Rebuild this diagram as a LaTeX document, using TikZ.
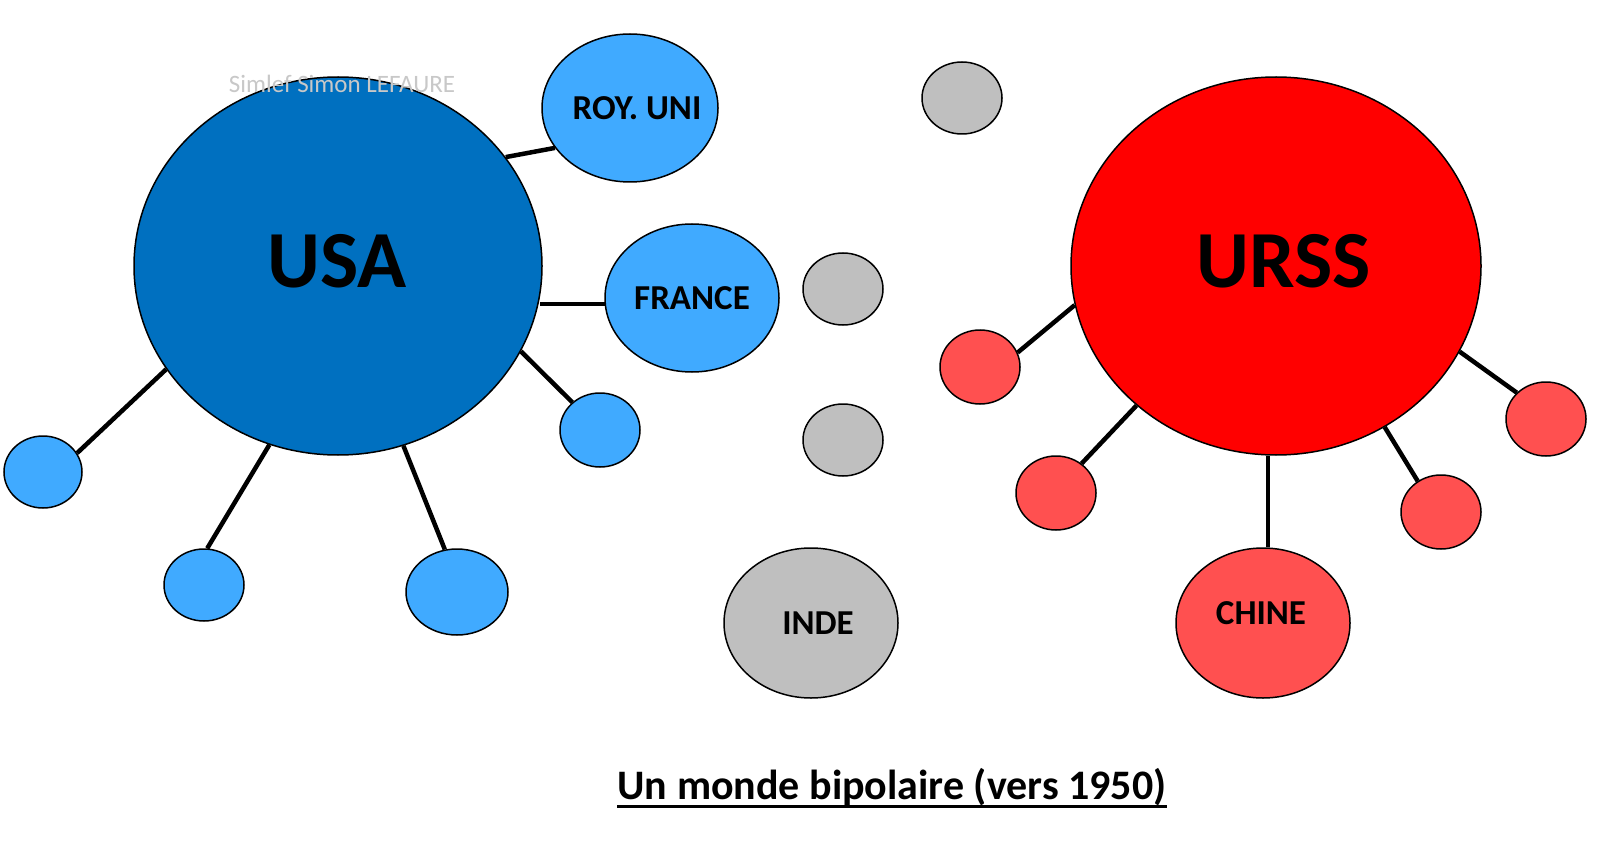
\documentclass[tikz,border=0pt]{standalone}
\usepackage{fontspec}
\setmainfont{Carlito}
\usetikzlibrary{shapes.geometric}
\definecolor{usablue}{RGB}{0,112,192}
\definecolor{allyblue}{RGB}{64,170,255}
\definecolor{sovred}{RGB}{255,0,0}
\definecolor{allyred}{RGB}{255,80,80}
\definecolor{neutralgray}{RGB}{191,191,191}
\definecolor{wmgray}{RGB}{200,200,200}
\begin{document}
\begin{tikzpicture}[x=1pt,y=-1pt,
  blob/.style={ellipse, draw=black, line width=1.5pt, inner sep=0pt},
  bluebig/.style={blob, fill=usablue},
  bluesm/.style={blob, fill=allyblue},
  redbig/.style={blob, fill=sovred},
  redsm/.style={blob, fill=allyred},
  neutral/.style={blob, fill=neutralgray},
  link/.style={line width=4.5pt, draw=black},
  biglbl/.style={inner sep=0pt, font=\bfseries\fontsize{81}{81}\selectfont},
  lbl/.style={inner sep=0pt, font=\bfseries\fontsize{35}{35}\selectfont}]
\useasboundingbox (0,0) rectangle (1600,850);
\fill[white] (0,0) rectangle (1600,850);
% blue bloc
\node[bluebig, minimum width=408pt, minimum height=378pt] (usa) at (338,266) {};
\node[bluesm, minimum width=176pt, minimum height=148pt] (roy) at (630,108) {};
\node[bluesm, minimum width=174pt, minimum height=148pt] (france) at (692,298) {};
\node[bluesm, minimum width=80pt, minimum height=74pt] (b1) at (600,430) {};
\node[bluesm, minimum width=78pt, minimum height=72pt] (b2) at (43,472) {};
\node[bluesm, minimum width=80pt, minimum height=72pt] (b3) at (204,585) {};
\node[bluesm, minimum width=102pt, minimum height=86pt] (b4) at (457,592) {};
% neutral
\node[neutral, minimum width=80pt, minimum height=72pt] (g1) at (962,98) {};
\node[neutral, minimum width=80pt, minimum height=72pt] (g2) at (843,289) {};
\node[neutral, minimum width=80pt, minimum height=72pt] (g3) at (843,440) {};
\node[neutral, minimum width=174pt, minimum height=150pt] (inde) at (811,623) {};
% red bloc
\node[redbig, minimum width=410pt, minimum height=378pt] (urss) at (1276,266) {};
\node[redsm, minimum width=80pt, minimum height=74pt] (r1) at (980,367) {};
\node[redsm, minimum width=80pt, minimum height=74pt] (r2) at (1056,493) {};
\node[redsm, minimum width=174pt, minimum height=150pt] (chine) at (1263,623) {};
\node[redsm, minimum width=80pt, minimum height=74pt] (r3) at (1441,512) {};
\node[redsm, minimum width=80pt, minimum height=74pt] (r4) at (1546,419) {};
% connectors
\draw[link] (usa.33) -- (roy.208);
\draw[link] (france.184) -- ([xshift=-3pt]france.184 -| usa.east);
\draw[link] (usa.-25.5) -- (b1.135);
\draw[link] (usa.211.7) -- (b2.29.7);
\draw[link] (usa.249.2) -- (b3.85);
\draw[link] (usa.290.8) -- (b4.106);
\draw[link] (urss.191.5) -- (r1.21);
\draw[link] (urss.225) -- (r2.49);
\draw[link] ([xshift=5pt]chine.north) -- ([xshift=5pt]chine.north |- urss.south);
\draw[link] (urss.304.8) -- (r3.127);
\draw[link] (urss.-25.8) -- (r4.138);
% labels
\node[biglbl] (tusa) at (337,261) {USA};
\node[biglbl] (turss) at (1284,261) {URSS};
\node[lbl] (troy) at (637,108) {ROY. UNI};
\node[lbl] (tfrance) at (692,298) {FRANCE};
\node[lbl] (tinde) at (818,623) {INDE};
\node[lbl] (tchine) at (1261,613) {CHINE};
\node[inner sep=0pt, anchor=base, font=\fontsize{25}{25}\selectfont, text=wmgray] (wm) at (342,93) {Simlef Simon LEFAURE};
\node[inner sep=0pt, anchor=base, font=\bfseries\fontsize{42}{42}\selectfont] (title) at (892,799) {Un monde bipolaire (vers 1950)};
\draw[line width=3pt] ([yshift=-7pt]title.base west) -- ([yshift=-7pt]title.base east);
\end{tikzpicture}
\end{document}
